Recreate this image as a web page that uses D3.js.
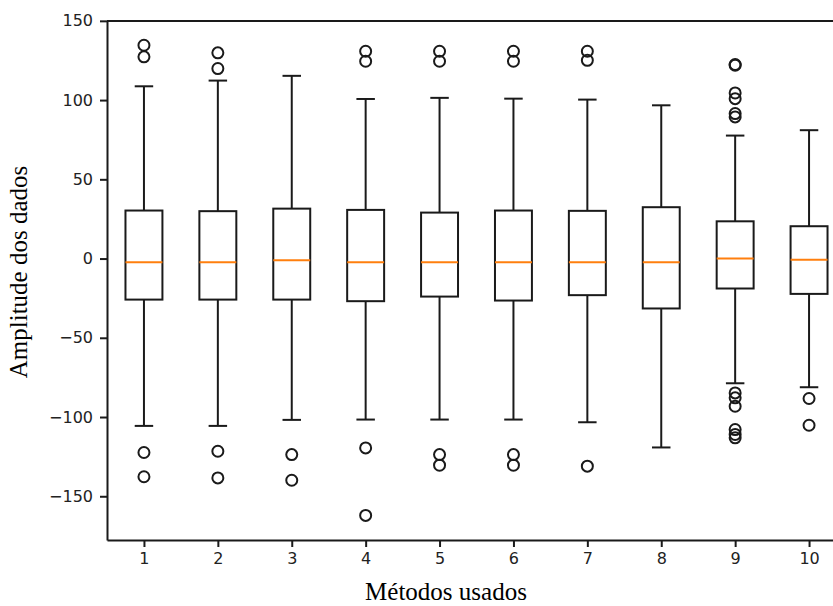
<!DOCTYPE html>
<html>
<head>
<meta charset="utf-8">
<script src="https://cdn.jsdelivr.net/npm/d3@7"></script>
<style>
  body { margin: 0; background: #fff; }
  .tick text { font-family: "DejaVu Sans", sans-serif; font-size: 16px; fill: #222; }
  .lbl { font-family: "Liberation Serif", "Times New Roman", serif; font-size: 25px; fill: #000; }
</style>
</head>
<body>
<svg width="833" height="606"></svg>
<script>
// values, one entry per method
var methods      = [1, 2, 3, 4, 5, 6, 7, 8, 9, 10];
var whiskerHigh  = [108.7, 112.3, 115.3, 100.7, 101.4, 100.9, 100.3, 96.7, 77.6, 81];
var q3           = [30.3, 29.9, 31.5, 30.7, 29, 30.3, 30.1, 32.4, 23.5, 20.4];
var medians      = [-2.3, -2.3, -1.1, -2.3, -2.3, -2.3, -2.3, -2.3, 0, -0.8];
var q1           = [-25.9, -25.9, -25.9, -26.9, -24, -26.5, -23.1, -31.5, -18.9, -22.3];
var whiskerLow   = [-105.6, -105.6, -101.8, -101.6, -101.6, -101.6, -103.3, -119.2, -78.7, -81.2];
var outliers     = [
    [134.6, 127.3, -122.4, -137.7],
    [129.8, 119.9, -121.6, -138.4],
    [-123.7, -139.9],
    [130.8, 124.5, -119.5, -162.1],
    [130.8, 124.5, -123.7, -130.4],
    [130.8, 124.5, -123.7, -130.4],
    [130.8, 125.1, -131],
    [],
    [122.4, 122, 104.5, 100.9, 91.5, 89.4, -84.8, -87.9, -93.2, -107.9, -111, -113.1],
    [-88.3, -105.2]
];
var yTicks = [-150, -100, -50, 0, 50, 100, 150];

var svg = d3.select("svg"),
    margin = {top: 21, left: 107, bottom: 66},
    height = +svg.attr("height") - margin.top - margin.bottom,
    plotW = 739,
    g = svg.append("g").attr("transform", "translate(" + margin.left + "," + margin.top + ")");

var x = d3.scaleLinear().domain([0.5, 10.5]).range([0, plotW]);
var y = d3.scaleLinear().domain([-177.6, 149.9]).range([height, 0]);

var boxW = x(1.25) - x(1),     // half of a box
    capW = x(1.125) - x(1);

var box = g.selectAll(".box")
    .data(methods)
    .enter().append("g")
    .attr("class", "box")
    .attr("transform", function(d) { return "translate(" + x(d) + ",0)"; });

// whiskers
box.append("line")
    .attr("y1", function(d, i) { return y(q3[i]); })
    .attr("y2", function(d, i) { return y(whiskerHigh[i]); })
    .attr("stroke", "#1a1a1a").attr("stroke-width", 2);
box.append("line")
    .attr("y1", function(d, i) { return y(q1[i]); })
    .attr("y2", function(d, i) { return y(whiskerLow[i]); })
    .attr("stroke", "#1a1a1a").attr("stroke-width", 2);
// caps
box.append("line")
    .attr("x1", -capW).attr("x2", capW)
    .attr("y1", function(d, i) { return y(whiskerHigh[i]); })
    .attr("y2", function(d, i) { return y(whiskerHigh[i]); })
    .attr("stroke", "#1a1a1a").attr("stroke-width", 2);
box.append("line")
    .attr("x1", -capW).attr("x2", capW)
    .attr("y1", function(d, i) { return y(whiskerLow[i]); })
    .attr("y2", function(d, i) { return y(whiskerLow[i]); })
    .attr("stroke", "#1a1a1a").attr("stroke-width", 2);
// box
box.append("rect")
    .attr("x", -boxW)
    .attr("width", 2 * boxW)
    .attr("y", function(d, i) { return y(q3[i]); })
    .attr("height", function(d, i) { return y(q1[i]) - y(q3[i]); })
    .attr("fill", "none")
    .attr("stroke", "#1a1a1a").attr("stroke-width", 2);
// median
box.append("line")
    .attr("x1", -boxW).attr("x2", boxW)
    .attr("y1", function(d, i) { return y(medians[i]); })
    .attr("y2", function(d, i) { return y(medians[i]); })
    .attr("stroke", "#ff7f0e").attr("stroke-width", 2);
// fliers
box.selectAll("circle")
    .data(function(d, i) { return outliers[i]; })
    .enter().append("circle")
    .attr("cy", function(v) { return y(v); })
    .attr("r", 5.5)
    .attr("fill", "none")
    .attr("stroke", "#1a1a1a").attr("stroke-width", 2);

// axes
var yAxis = g.append("g")
    .attr("class", "axis axis--y")
    .call(d3.axisLeft(y).tickValues(yTicks).tickSize(7).tickPadding(7).tickSizeOuter(0));
var xAxis = g.append("g")
    .attr("class", "axis axis--x")
    .attr("transform", "translate(0," + height + ")")
    .call(d3.axisBottom(x).tickValues(methods).tickFormat(d3.format("d")).tickSize(7).tickPadding(6).tickSizeOuter(0));
g.selectAll(".axis path, .axis line").attr("stroke", "#1a1a1a").attr("stroke-width", 2);

g.append("line")
    .attr("x1", 0).attr("x2", plotW)
    .attr("y1", 0).attr("y2", 0)
    .attr("stroke", "#1a1a1a").attr("stroke-width", 2);
g.append("line")
    .attr("x1", plotW).attr("x2", plotW)
    .attr("y1", 0).attr("y2", height)
    .attr("stroke", "#1a1a1a").attr("stroke-width", 2);

// labels
svg.append("text")
    .attr("class", "lbl")
    .attr("text-anchor", "middle")
    .attr("transform", "translate(27,272) rotate(-90)")
    .text("Amplitude dos dados");
svg.append("text")
    .attr("class", "lbl")
    .attr("text-anchor", "middle")
    .attr("x", 446)
    .attr("y", 600)
    .text("Métodos usados");
</script>
</body>
</html>
